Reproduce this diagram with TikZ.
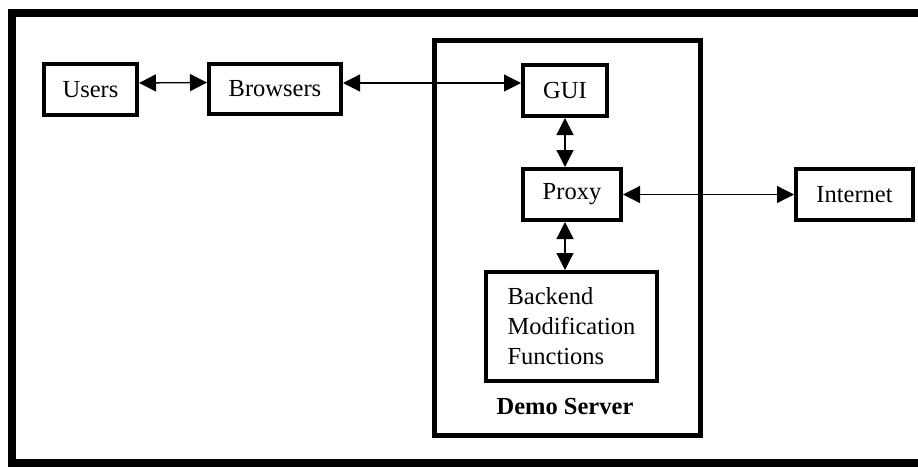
\documentclass[tikz,border=0pt]{standalone}
\usepackage{fontspec}
\setmainfont{Liberation Serif}
\usetikzlibrary{arrows.meta}
\tikzset{>={Triangle[length=17pt,width=17pt]}}
\tikzset{block/.style={draw, line width=4pt, inner sep=0pt, align=center, font=\fontsize{24.5}{30}\selectfont}}

\begin{document}
\begin{tikzpicture}[x=1pt, y=-1pt, line width=1.3pt]

	\useasboundingbox (0,0) rectangle (918,466);
	\draw[line width=8pt] (12,12.5) rectangle (924,463);

	\node[block, line width=5pt, minimum width=266pt, minimum height=395pt] (server) at (567.5,238) {};
	\node[font=\fontsize{24.5}{30}\selectfont\bfseries] (serverlabel) at (565,407) {Demo Server};

	\node[block, minimum width=93pt, minimum height=51pt] (users) at (90.5,89.5) {Users};
	\node[block, minimum width=132pt, minimum height=50pt] (browsers) at (275,89) {Browsers};
	\node[block, minimum width=84pt, minimum height=51pt] (gui) at (565,90.5) {GUI};
	\node[block, minimum width=98pt, minimum height=51pt] (proxy) at (572,194.5) {Proxy};
	\node[block, minimum width=117pt, minimum height=51pt] (internet) at (854.5,194.5) {Internet};
	\node[block, align=left, minimum width=171pt, minimum height=109pt] (backend) at (571.5,326.5) {Backend\\Modification\\Functions};

	\draw[<->] ([yshift=6.5pt]users.east) -- ([yshift=6.5pt]browsers.west);
	\draw[<->] ([yshift=6pt]browsers.east) -- ([yshift=6pt]browsers.east -| gui.west);
	\draw[<->] (gui.south) -- (gui.south |- proxy.north);
	\draw[<->] (proxy.south -| gui.south) -- (gui.south |- backend.north);
	\draw[<->] (proxy.east) -- (internet.west);

\end{tikzpicture}
\end{document}
